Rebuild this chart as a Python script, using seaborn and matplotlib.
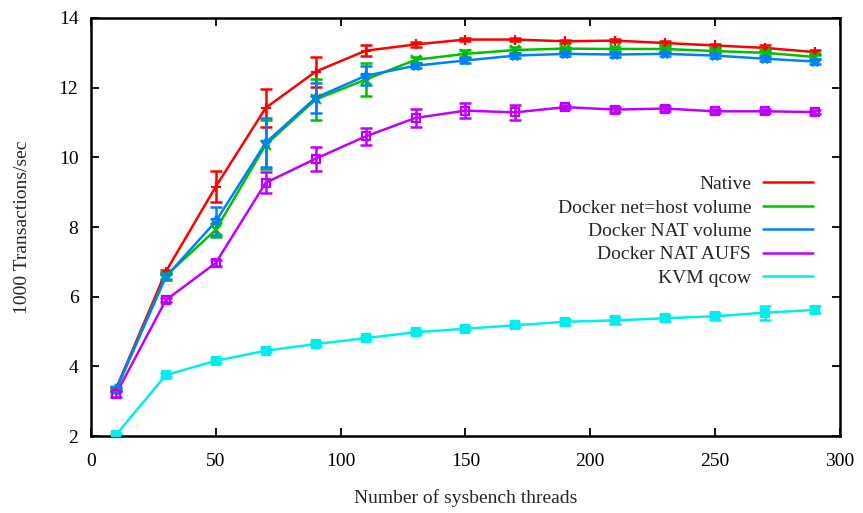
import numpy as np
import pandas as pd
import matplotlib
matplotlib.use("Agg")
import matplotlib.pyplot as plt
import seaborn as sns

threads = [10, 30, 50, 70, 90, 110, 130, 150, 170, 190, 210, 230, 250, 270, 290]

native = [3.35, 6.72, 9.16, 11.42, 12.46, 13.06, 13.24, 13.38, 13.38, 13.33, 13.35, 13.28, 13.21, 13.14, 13.02]
native_err = [0.05, 0.05, 0.45, 0.55, 0.43, 0.15, 0.08, 0.05, 0.05, 0.05, 0.05, 0.07, 0.05, 0.07, 0.05]

host_vol = [3.3, 6.6, 7.92, 10.36, 11.66, 12.23, 12.80, 12.97, 13.08, 13.12, 13.11, 13.11, 13.05, 13.0, 12.88]
host_vol_err = [0.05, 0.08, 0.2, 0.7, 0.6, 0.47, 0.08, 0.1, 0.1, 0.05, 0.06, 0.06, 0.05, 0.05, 0.05]

nat_vol = [3.35, 6.57, 8.16, 10.42, 11.71, 12.34, 12.63, 12.78, 12.92, 12.97, 12.95, 12.97, 12.92, 12.83, 12.75]
nat_vol_err = [0.05, 0.08, 0.4, 0.7, 0.43, 0.27, 0.08, 0.08, 0.08, 0.06, 0.06, 0.06, 0.06, 0.06, 0.06]

nat_aufs = [3.2, 5.9, 6.97, 9.27, 9.96, 10.6, 11.13, 11.34, 11.29, 11.44, 11.37, 11.40, 11.32, 11.32, 11.30]
nat_aufs_err = [0.08, 0.06, 0.08, 0.3, 0.35, 0.25, 0.25, 0.22, 0.22, 0.06, 0.08, 0.08, 0.06, 0.06, 0.06]

kvm = [2.03, 3.75, 4.16, 4.45, 4.64, 4.81, 4.98, 5.08, 5.18, 5.28, 5.32, 5.38, 5.44, 5.54, 5.62]
kvm_err = [0.05, 0.05, 0.05, 0.05, 0.05, 0.05, 0.05, 0.05, 0.05, 0.08, 0.1, 0.08, 0.1, 0.2, 0.1]

labels = ["Native", "Docker net=host volume", "Docker NAT volume", "Docker NAT AUFS", "KVM qcow"]
colors = ["#ff0000", "#00c000", "#0080ff", "#c000ff", "#00eeee"]
markers = ["+", "x", "*", "s", "s"]
mfaces = ["none", "none", "none", "none", None]

series = [native, host_vol, nat_vol, nat_aufs, kvm]
errs = [native_err, host_vol_err, nat_vol_err, nat_aufs_err, kvm_err]

rows = []
for lab, vals, er in zip(labels, series, errs):
    for t, v, e in zip(threads, vals, er):
        rows.append({"threads": t, "tps": v, "err": e, "config": lab})
df = pd.DataFrame(rows)

sns.set_theme(style="ticks")
plt.rcParams["font.family"] = ["Liberation Serif", "DejaVu Serif"]
plt.rcParams["font.size"] = 14

fig = plt.figure(figsize=(8.63, 5.13), dpi=100)
ax = fig.add_axes([0.1054, 0.150, 0.8679, 0.815])

for lab, col, mk, mf in zip(labels, colors, markers, mfaces):
    d = df[df["config"] == lab]
    ax.errorbar(d["threads"], d["tps"], yerr=d["err"], fmt="none", ecolor=col,
                elinewidth=1.8, capsize=4, capthick=1.8, zorder=2)
    sns.lineplot(data=d, x="threads", y="tps", ax=ax, color=col, linewidth=1.8,
                 label=lab, legend=False, zorder=3, errorbar=None)
    kw = dict(color=col, markersize=7 if mk != "s" else 5.5, markeredgewidth=1.6, linestyle="none", zorder=4)
    if mf is not None:
        kw["markerfacecolor"] = mf
    ax.plot(d["threads"], d["tps"], marker=mk, **kw)

ax.set_xlim(0, 300)
ax.set_ylim(2, 14)
ax.set_xticks(np.arange(0, 301, 50))
ax.set_yticks(np.arange(2, 15, 2))
ax.tick_params(direction="in", length=6, width=1.3, top=True, right=True,
               labelsize=14, colors="black")
ax.tick_params(axis="x", pad=12)
ax.tick_params(axis="y", pad=9)
for s in ax.spines.values():
    s.set_linewidth(1.8)
    s.set_color("black")

ax.set_xlabel("Number of sysbench threads", fontsize=14, labelpad=14)
ax.set_ylabel("1000 Transactions/sec", fontsize=14, labelpad=20)

handles = [plt.Line2D([], [], color=c, linewidth=1.8) for c in colors]
ax.legend(handles, labels, loc="upper right", bbox_to_anchor=(0.988, 0.665),
          frameon=False, markerfirst=False, fontsize=14, handlelength=2.6,
          labelspacing=0.3, handletextpad=0.6)

fig.savefig("out.png", dpi=100)
